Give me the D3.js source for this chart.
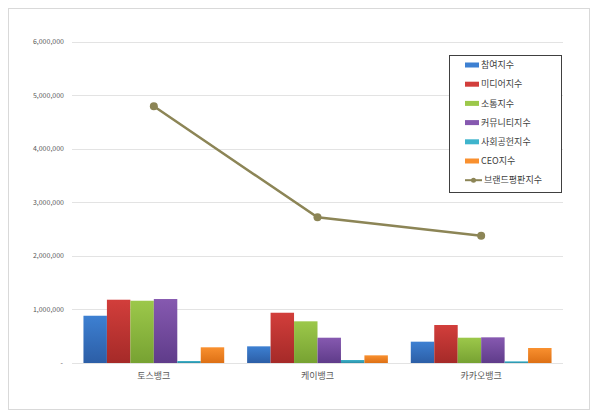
<!DOCTYPE html>
<html><head><meta charset="utf-8">
<script src="https://cdn.jsdelivr.net/npm/d3@7"></script>
<style>body{margin:0;background:#fff;}svg{display:block;font-family:"Noto Sans CJK KR","Noto Sans",sans-serif;}</style>
</head><body>
<svg id="c" width="600" height="416"></svg>
<script>
const categories = ["토스뱅크","케이뱅크","카카오뱅크"];
const seriesNames = ["참여지수","미디어지수","소통지수","커뮤니티지수","사회공헌지수","CEO지수"];
const participation = [882000, 311000, 398000];
const media = [1181000, 938000, 709000];
const communication = [1162000, 778000, 472000];
const community = [1194000, 472000, 479000];
const social = [37000, 56000, 31000];
const ceo = [293000, 143000, 280000];
const brandName = "브랜드평판지수";
const brand = [4790000, 2718000, 2375000];
const yTicks = [0,1000000,2000000,3000000,4000000,5000000,6000000];

const barSeries = [participation, media, communication, community, social, ceo];
const colors = [["#3d80d2","#2c5ea6"],["#d23e3b","#a52a28"],["#9cc84a","#77a232"],["#8659b0","#5f3c8a"],["#3fb4cc","#2a8ea6"],["#f9902f","#dd7015"]];
const lineColor = "#8c8556";

const svg = d3.select("#c");
const defs = svg.append("defs");
colors.forEach((c,i)=>{
  const g = defs.append("linearGradient").attr("id","g"+i).attr("x1",0).attr("y1",0).attr("x2",0).attr("y2",1);
  g.append("stop").attr("offset","0%").attr("stop-color",c[0]);
  g.append("stop").attr("offset","100%").attr("stop-color",c[1]);
});

svg.append("rect").attr("x",8.5).attr("y",8.5).attr("width",581).attr("height",401).attr("fill","#fff").attr("stroke","#d9d9d9");

const x0 = 72, x1 = 563;
const y = d3.scaleLinear().domain([0,6000000]).range([363,41.5]);
const x = d3.scaleBand().domain(categories).range([x0,x1]).paddingInner(0.14).paddingOuter(0.07);
const xs = d3.scaleBand().domain(d3.range(6)).range([0,x.bandwidth()]);

// gridlines
svg.append("g").selectAll("line").data(yTicks).join("line")
  .attr("x1",x0).attr("x2",x1).attr("y1",d=>Math.round(y(d))+0.5).attr("y2",d=>Math.round(y(d))+0.5)
  .attr("stroke","#e3e3e3").attr("stroke-width",1);

// y labels
svg.append("g").selectAll("text").data(yTicks).join("text")
  .attr("x",d=>d===0?63:64).attr("y",d=>y(d)).attr("dy","0.35em")
  .attr("text-anchor","end").attr("font-size",7).attr("fill","#595959")
  .text(d=>d===0?"-":d3.format(",")(d));

// bars
barSeries.forEach((vals,i)=>{
  svg.append("g").selectAll("rect").data(vals).join("rect")
    .attr("x",(d,j)=>x(categories[j])+xs(i))
    .attr("width",xs.bandwidth())
    .attr("y",d=>y(d)).attr("height",d=>y(0)-y(d))
    .attr("fill","url(#g"+i+")");
});

// line
const cx = c => x(c)+x.bandwidth()/2;
svg.append("path").datum(brand)
  .attr("d",d3.line().x((d,j)=>cx(categories[j])).y(d=>y(d)))
  .attr("fill","none").attr("stroke",lineColor).attr("stroke-width",2.5);
svg.append("g").selectAll("circle").data(brand).join("circle")
  .attr("cx",(d,j)=>cx(categories[j])).attr("cy",d=>y(d)).attr("r",4).attr("fill",lineColor);

// category labels
svg.append("g").selectAll("text").data(categories).join("text")
  .attr("x",d=>cx(d)).attr("y",376).attr("dy","0.35em").attr("text-anchor","middle")
  .attr("font-size",9).attr("fill","#595959").text(d=>d);

// legend
const lg = svg.append("g");
lg.append("rect").attr("x",449.5).attr("y",55.5).attr("width",112).attr("height",137).attr("fill","#fff").attr("stroke","#404040").attr("stroke-width",1);
const items = seriesNames.concat([brandName]);
items.forEach((name,i)=>{
  const yy = 65 + i*19.2;
  if(i<6){
    lg.append("rect").attr("x",465).attr("y",yy-2.5).attr("width",14).attr("height",5).attr("fill",colors[i][0]);
  } else {
    lg.append("line").attr("x1",465).attr("x2",482).attr("y1",yy).attr("y2",yy).attr("stroke",lineColor).attr("stroke-width",2);
    lg.append("circle").attr("cx",473.5).attr("cy",yy).attr("r",2.5).attr("fill",lineColor);
  }
  lg.append("text").attr("x",i<6?481:484).attr("y",yy).attr("dy","0.35em").attr("font-size",9).attr("fill","#404040").text(name);
});
</script>
</body></html>
